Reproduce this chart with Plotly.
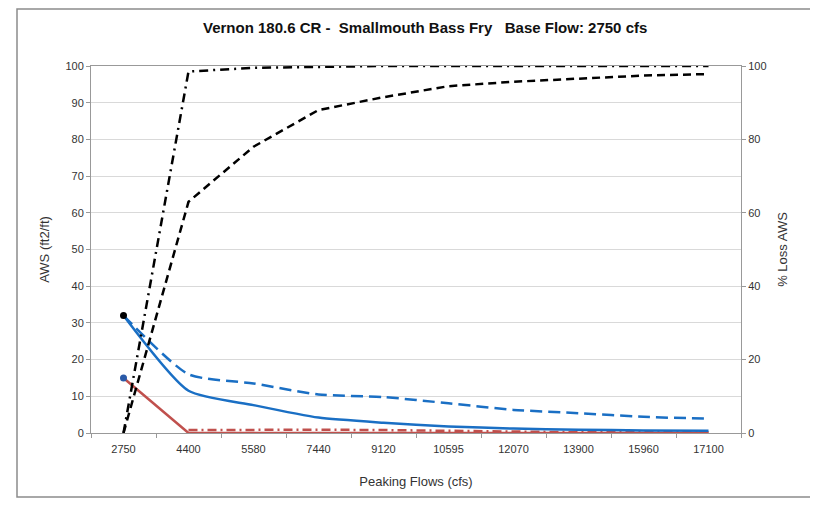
import plotly.graph_objects as go

# Category axis: peaking flows (cfs)
flows = ["2750", "4400", "5580", "7440", "9120", "10595", "12070", "13900", "15960", "17100"]

# AWS (ft2/ft) - left axis
aws_solid_blue = [32, 11.5, 7.6, 4.2, 2.8, 1.8, 1.2, 0.9, 0.7, 0.6]
aws_dash_blue = [32, 16, 13.5, 10.5, 9.8, 8.1, 6.3, 5.4, 4.4, 3.9]
aws_solid_red = [15, 0, 0, 0, 0, 0, 0, 0, 0, 0]
aws_dashdot_red = [None, 0.8, 0.9, 0.9, 0.8, 0.6, 0.3, 0.2, 0.2, 0.2]

# % Loss AWS - right axis
loss_dashdot = [0, 98.5, 99.5, 99.8, 100, 100, 100, 100, 100, 100]
loss_dash = [0, 63, 78, 88, 91.5, 94.5, 95.7, 96.6, 97.4, 97.8]

# base flow points
base_flow = ["2750"]
base_blue = [32]
base_red = [15]

BLUE = "#1a6fc4"
RED = "#c0504d"
FONT = "Liberation Sans, Arial, sans-serif"

fig = go.Figure()

fig.add_trace(go.Scatter(x=flows, y=aws_dashdot_red, mode="lines",
                         line=dict(color=RED, width=2.5, dash="9px,4px,2px,4px")))
fig.add_trace(go.Scatter(x=flows, y=aws_solid_red, mode="lines",
                         line=dict(color=RED, width=2.5)))
fig.add_trace(go.Scatter(x=flows, y=aws_dash_blue, mode="lines",
                         line=dict(color=BLUE, width=2.5, dash="12px,6px", shape="spline", smoothing=0.6)))
fig.add_trace(go.Scatter(x=flows, y=aws_solid_blue, mode="lines",
                         line=dict(color=BLUE, width=2.5, shape="spline", smoothing=0.6)))

fig.add_trace(go.Scatter(x=flows, y=loss_dashdot, mode="lines", yaxis="y2",
                         line=dict(color="black", width=2.5, dash="9px,5px,2px,5px")))
fig.add_trace(go.Scatter(x=flows, y=loss_dash, mode="lines", yaxis="y2",
                         line=dict(color="black", width=2.5, dash="8px,5px")))

fig.add_trace(go.Scatter(x=base_flow, y=base_blue, mode="markers",
                         marker=dict(color="black", size=7)))
fig.add_trace(go.Scatter(x=base_flow, y=base_red, mode="markers",
                         marker=dict(color="#2a5aa8", size=7)))

# page body adds 8px, so figure is 810x497 and sits at (8, 8)
fig.update_layout(
    width=810, height=497,
    margin=dict(l=83, r=77, t=58, b=72),
    paper_bgcolor="white", plot_bgcolor="white",
    showlegend=False,
    font=dict(family=FONT, size=11, color="#333333"),
    title=dict(text="<b>Vernon 180.6 CR -  Smallmouth Bass Fry   Base Flow: 2750 cfs</b>",
               x=0.515, xanchor="center", y=0.96, yanchor="middle",
               font=dict(family=FONT, size=15, color="#111111")),
    xaxis=dict(type="category", range=[-0.5, 9.5], tickson="boundaries",
               ticks="outside", ticklen=4, tickcolor="#999999", ticklabelstandoff=6,
               showline=True, linecolor="#999999", mirror=True, showgrid=False,
               title=dict(text="Peaking Flows (cfs)", standoff=22)),
    yaxis=dict(range=[0, 100], dtick=10, ticks="outside", ticklen=4, tickcolor="#999999",
               showline=True, linecolor="#999999", gridcolor="#d9d9d9", zeroline=False,
               title=dict(text="AWS (ft2/ft)", standoff=12)),
    yaxis2=dict(range=[0, 100], dtick=20, overlaying="y", side="right",
                ticks="outside", ticklen=4, tickcolor="#999999",
                showline=True, linecolor="#999999", showgrid=False, zeroline=False,
                title=dict(text="% Loss AWS", standoff=12)),
)

# outer chart border
fig.add_shape(type="rect", xref="paper", yref="paper",
              x0=-74 / 650, x1=(818 - 91) / 650, y0=-64 / 367, y1=(433 - 9) / 367,
              line=dict(color="#8c8c8c", width=1.5))

fig.write_html("out.html")
